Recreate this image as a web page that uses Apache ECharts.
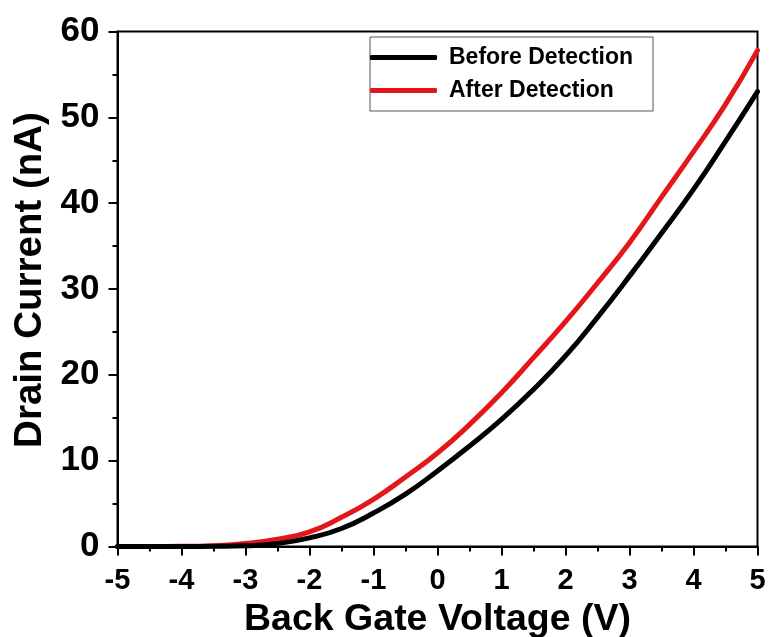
<!DOCTYPE html>
<html>
<head>
<meta charset="utf-8">
<script src="https://cdn.jsdelivr.net/npm/echarts@6/dist/echarts.min.js"></script>
<style>
  html, body { margin: 0; padding: 0; background: #fff; }
  #chart { width: 770px; height: 637px; }
</style>
</head>
<body>
<div id="chart"></div>
<script>
// Back-gate transfer curves of the sensor, before and after detection
const gateVoltage = [-5, -4.5, -4, -3.5, -3, -2.5, -2, -1.5, -1, -0.5, 0, 0.5, 1, 1.5, 2, 2.5, 3, 3.5, 4, 4.5, 5];
const beforeDetection = [0, 0, 0, 0.02, 0.08, 0.35, 1.0, 2.1, 3.9, 6.1, 8.8, 11.7, 14.8, 18.3, 22.2, 26.7, 31.5, 36.5, 41.6, 47.2, 53.0];
const afterDetection = [0, 0, 0.02, 0.1, 0.35, 0.85, 1.7, 3.4, 5.5, 8.1, 10.9, 14.2, 17.9, 22.0, 26.2, 30.7, 35.4, 40.7, 46.0, 51.5, 57.8];
const seriesNames = ['Before Detection', 'After Detection'];

const FONT = 'Arial, "Liberation Sans", Helvetica, sans-serif';

const pairs = (xs, ys) => xs.map((x, i) => [x, ys[i]]);

const chart = echarts.init(document.getElementById('chart'), null, { renderer: 'canvas' });

const axisCommon = {
  axisLine: { show: true, onZero: false, lineStyle: { color: '#000', width: 2 } },
  axisTick: { show: true, inside: false, length: 9, lineStyle: { color: '#000', width: 2 } },
  minorTick: { show: true, splitNumber: 2, length: 5, lineStyle: { color: '#000', width: 2 } },
  splitLine: { show: false },
  minorSplitLine: { show: false }
};

chart.setOption({
  animation: false,
  backgroundColor: '#fff',
  grid: {
    left: 117.5, right: 12.5, top: 31.5, bottom: 90.5,
    containLabel: false,
    outerBoundsMode: 'none',
    show: true, borderColor: '#000', borderWidth: 2, backgroundColor: 'transparent'
  },
  legend: {
    data: seriesNames,
    orient: 'vertical',
    left: 370, top: 37,
    padding: [9, 20, 9, 0],
    itemGap: 10,
    itemWidth: 67, itemHeight: 5,
    icon: 'roundRect',
    borderColor: '#555', borderWidth: 1,
    textStyle: { fontFamily: FONT, fontWeight: 'bold', fontSize: 23, color: '#000', lineHeight: 22, padding: [0, 0, 0, 7] }
  },
  xAxis: Object.assign({
    type: 'value',
    min: -5, max: 5, interval: 1,
    name: 'Back Gate Voltage (V)',
    nameLocation: 'middle',
    nameGap: 54,
    nameTextStyle: { fontFamily: FONT, fontWeight: 'bold', fontSize: 37.5, color: '#000' },
    axisLabel: { margin: 20, fontFamily: FONT, fontWeight: 'bold', fontSize: 29, color: '#000' }
  }, axisCommon),
  yAxis: Object.assign({
    type: 'value',
    min: 0, max: 60, interval: 10,
    name: 'Drain Current (nA)',
    nameLocation: 'middle',
    nameGap: 68,
    nameTextStyle: { fontFamily: FONT, fontWeight: 'bold', fontSize: 38.5, color: '#000', padding: [0, 0, 0, 18] },
    axisLabel: { margin: 18, fontFamily: FONT, fontWeight: 'bold', fontSize: 35, color: '#000' }
  }, axisCommon),
  series: [
    {
      name: seriesNames[0],
      type: 'line',
      data: pairs(gateVoltage, beforeDetection),
      smooth: 0.5,
      showSymbol: false,
      z: 3,
      color: '#000',
      lineStyle: { color: '#000', width: 5, cap: 'round' }
    },
    {
      name: seriesNames[1],
      type: 'line',
      data: pairs(gateVoltage, afterDetection),
      smooth: 0.5,
      showSymbol: false,
      z: 2,
      color: '#e3161b',
      lineStyle: { color: '#e3161b', width: 5, cap: 'round' }
    }
  ]
});
</script>
</body>
</html>
